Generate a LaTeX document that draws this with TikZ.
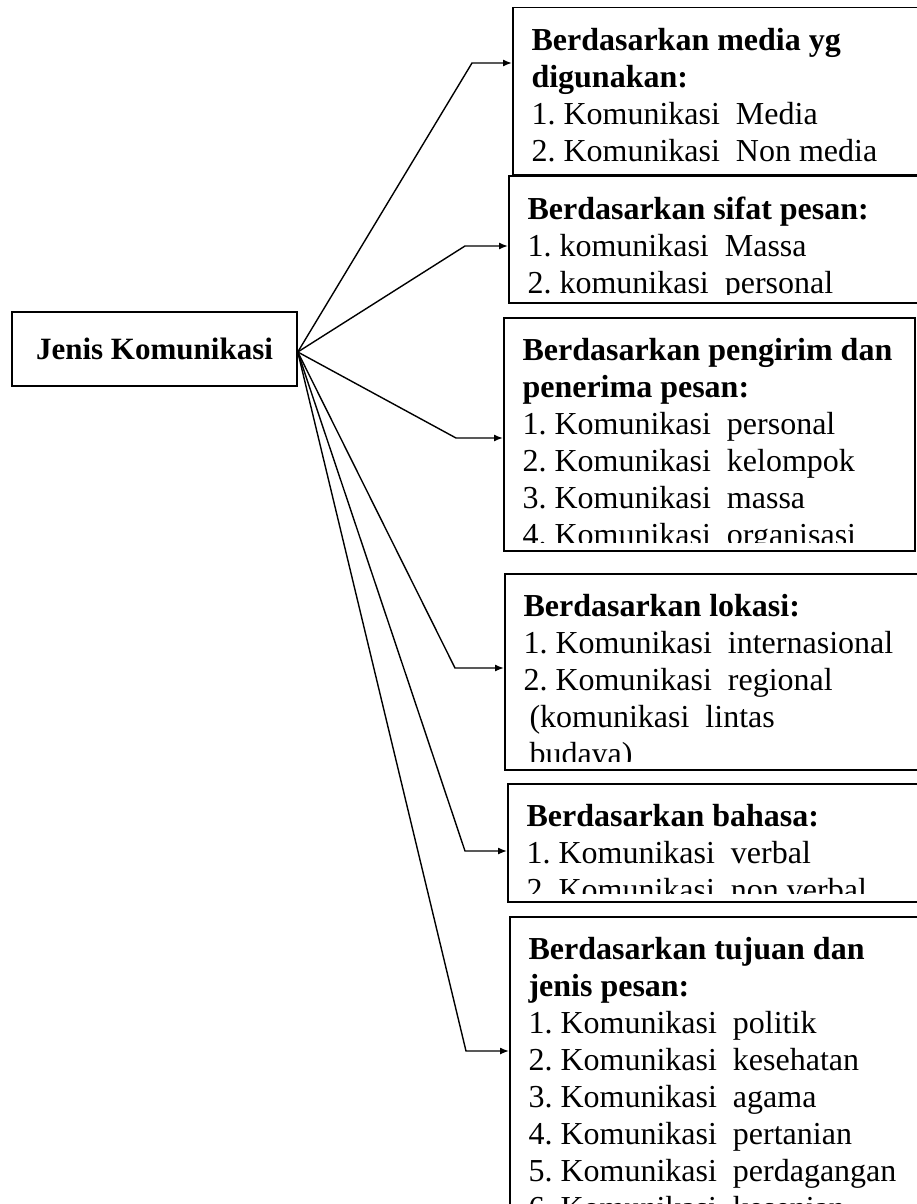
\documentclass[tikz,border=0pt]{standalone}
\usepackage{fontspec}
\setmainfont{Liberation Serif}
\usetikzlibrary{arrows.meta}
\begin{document}
\begin{tikzpicture}[x=1pt,y=-1pt,
  box/.style={draw,line width=1.5pt,rectangle,inner sep=0pt,anchor=north west},
  main node/.style={box,anchor=center,minimum width=285pt,minimum height=74pt,
    font=\bfseries\fontsize{31}{36}\selectfont},
  cat node/.style={box,path picture={
      \clip ([yshift=8pt]path picture bounding box.south west) rectangle (path picture bounding box.north east);
      \node[anchor=north west,draw=none,minimum width=0pt,minimum height=0pt,inner sep=0pt,
        align=left,font=\fontsize{32}{37}\selectfont]
        at ([xshift=18pt,yshift=-20pt]path picture bounding box.north west) {#1};}},
  arr/.style={-{Latex[length=9pt,width=7pt]},line width=1.4pt}]
\useasboundingbox (0,0) rectangle (916,1204);

% pusat
\node[main node] (jenis) at (154.5,349) {Jenis Komunikasi};
\coordinate (hub) at ([yshift=-3pt]jenis.east);

% kotak kategori
\node[cat node={\textbf{Berdasarkan media yg}\\ \textbf{digunakan:}\\
    1.~Komunikasi\enspace Media\\ 2.~Komunikasi\enspace Non media},
  minimum width=408pt,minimum height=167pt] (media) at (512,7) {};
\node[cat node={\textbf{Berdasarkan sifat pesan:}\\
    1.~komunikasi\enspace Massa\\ 2.~komunikasi\enspace personal},
  minimum width=412pt,minimum height=127pt] (sifat) at (508,175) {};
\node[cat node={\textbf{Berdasarkan pengirim dan}\\ \textbf{penerima pesan:}\\
    1.~Komunikasi\enspace personal\\ 2.~Komunikasi\enspace kelompok\\
    3.~Komunikasi\enspace massa\\ 4.~Komunikasi\enspace organisasi},
  minimum width=411pt,minimum height=233pt] (pengirim) at (503,317) {};
\node[cat node={\textbf{Berdasarkan lokasi:}\\
    1.~Komunikasi\enspace internasional\\ 2.~Komunikasi\enspace regional\\
    \hspace{6pt}(komunikasi\enspace lintas\\ \hspace{6pt}budaya)},
  minimum width=416pt,minimum height=196pt] (lokasi) at (504,573) {};
\node[cat node={\textbf{Berdasarkan bahasa:}\\
    1.~Komunikasi\enspace verbal\\ 2.~Komunikasi\enspace non verbal},
  minimum width=413pt,minimum height=118pt] (bahasa) at (507,783) {};
\node[cat node={\textbf{Berdasarkan tujuan dan}\\ \textbf{jenis pesan:}\\
    1.~Komunikasi\enspace politik\\ 2.~Komunikasi\enspace kesehatan\\
    3.~Komunikasi\enspace agama\\ 4.~Komunikasi\enspace pertanian\\
    5.~Komunikasi\enspace perdagangan\\ 6.~Komunikasi\enspace kesenian},
  minimum width=411pt,minimum height=310pt] (tujuan) at (509,916) {};

% titik tekuk
\coordinate (e1) at (472,63);
\coordinate (e2) at (465,246);
\coordinate (e3) at (456,438);
\coordinate (e4) at (455,668);
\coordinate (e5) at (465,851);
\coordinate (e6) at (466,1051);

\draw[arr] (hub) -- (e1) -- (e1 -| media.west);
\draw[arr] (hub) -- (e2) -- (e2 -| sifat.west);
\draw[arr] (hub) -- (e3) -- (e3 -| pengirim.west);
\draw[arr] (hub) -- (e4) -- (e4 -| lokasi.west);
\draw[arr] (hub) -- (e5) -- (e5 -| bahasa.west);
\draw[arr] (hub) -- (e6) -- (e6 -| tujuan.west);
\end{tikzpicture}
\end{document}
